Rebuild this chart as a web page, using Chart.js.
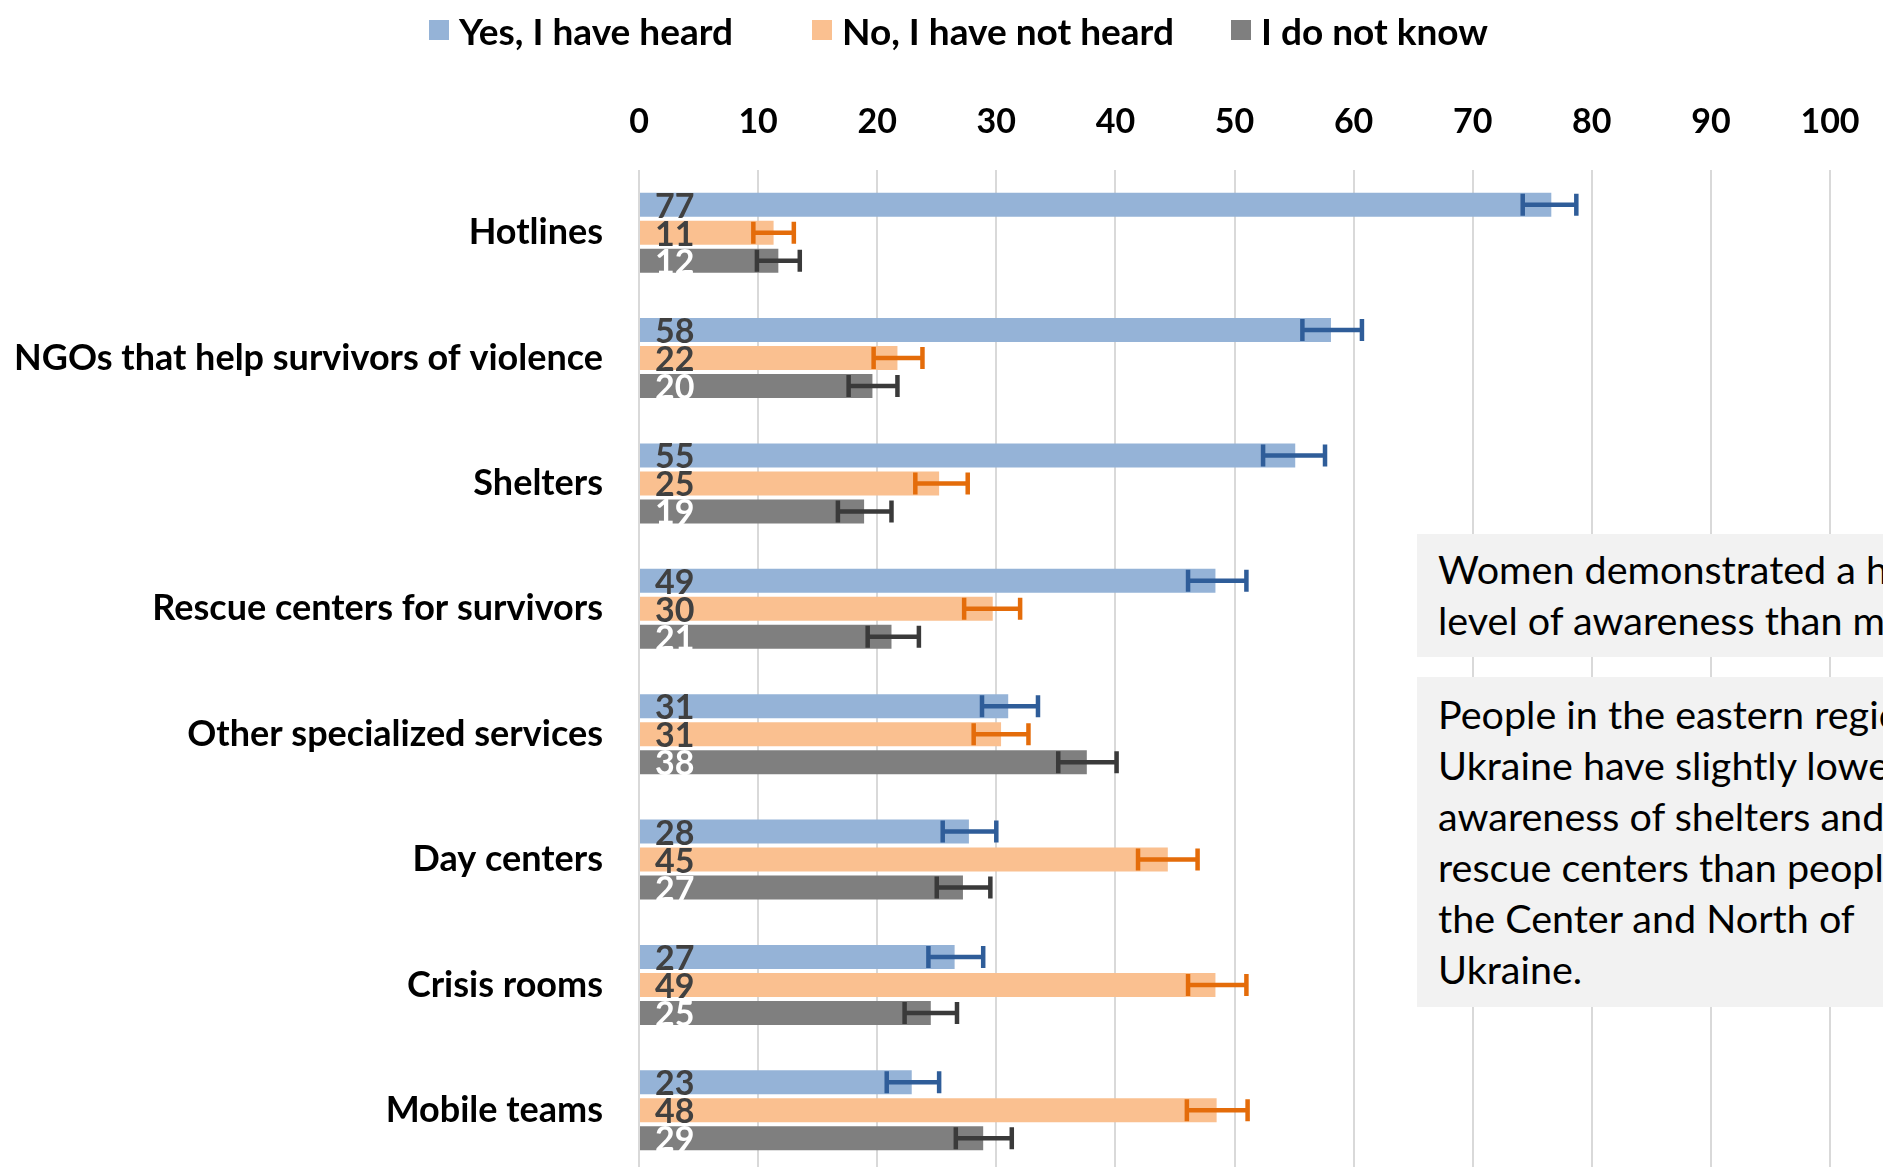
<!DOCTYPE html>
<html lang="en">
<head>
<meta charset="UTF-8">
<title>Awareness of services</title>
<script src="https://cdn.jsdelivr.net/npm/chart.js@4.4.0/dist/chart.umd.min.js"></script>
<style>
  html, body { margin: 0; padding: 0; background: #fff; }
  #frame { position: relative; width: 1883px; height: 1167px; overflow: hidden; }
  #awareness { position: absolute; left: 0; top: 0; }
  .legendItem { position: absolute; top: 7px; height: 46px; display: flex; align-items: center; font-family: Lato, sans-serif; font-weight: bold; font-size: 37px; color: #000; white-space: nowrap; }
  .legendItem .swatch { width: 20px; height: 20px; margin-right: 10px; }
  .note { position: absolute; left: 1417px; width: 560px; background: #f2f2f2; font-family: Lato, sans-serif; font-size: 39.5px; line-height: 51px; color: #000; padding-left: 21px; box-sizing: border-box; white-space: nowrap; }
</style>
</head>
<body>
<div id="frame">
  <canvas id="awareness" width="1883" height="1175"></canvas>
  <div class="note" style="top:534px; height:123px; padding-top:9px;">Women demonstrated a higher<br>level of awareness than men.</div>
  <div class="note" style="top:677px; height:330px; padding-top:11px;">People in the eastern regions of<br>Ukraine have slightly lower<br>awareness of shelters and<br>rescue centers than people in<br>the Center and North of<br>Ukraine.</div>
</div>

<script>
  // categories and series
  const categories = ['Hotlines', 'NGOs that help survivors of violence', 'Shelters', 'Rescue centers for survivors',
    'Other specialized services', 'Day centers', 'Crisis rooms', 'Mobile teams'];
  const seriesNames = ['Yes, I have heard', 'No, I have not heard', 'I do not know'];

  // bar lengths
  const yesValues = [76.6, 58.1, 55.1, 48.4, 31.0, 27.7, 26.5, 22.9];
  const noValues  = [11.3, 21.7, 25.2, 29.7, 30.4, 44.4, 48.4, 48.5];
  const dkValues  = [11.7, 19.6, 18.9, 21.2, 37.6, 27.2, 24.5, 28.9];

  // printed labels
  const yesLabels = [77, 58, 55, 49, 31, 28, 27, 23];
  const noLabels  = [11, 22, 25, 30, 31, 45, 49, 48];
  const dkLabels  = [12, 20, 19, 21, 38, 27, 25, 29];

  // error bar ends
  const yesLow  = [74.2, 55.7, 52.4, 46.1, 28.8, 25.5, 24.3, 20.8];
  const yesHigh = [78.7, 60.7, 57.6, 51.0, 33.5, 30.0, 28.9, 25.2];
  const noLow   = [9.6, 19.7, 23.2, 27.3, 28.1, 41.9, 46.1, 46.0];
  const noHigh  = [13.0, 23.8, 27.6, 32.0, 32.7, 46.9, 51.0, 51.1];
  const dkLow   = [9.9, 17.6, 16.7, 19.2, 35.2, 25.0, 22.3, 26.6];
  const dkHigh  = [13.5, 21.7, 21.2, 23.5, 40.1, 29.5, 26.7, 31.3];

  const barColors = ['#95b3d7', '#fac090', '#7f7f7f'];
  const errColors = ['#2f5d99', '#e46c0a', '#3a3a3a'];
  const labelColors = ['#404040', '#404040', '#ffffff'];
  const legendLeft = [429, 812, 1231];

  const FONT = 'Lato, sans-serif';

  // legend (html, placed like the original)
  const frame = document.getElementById('frame');
  seriesNames.forEach((name, i) => {
    const item = document.createElement('div');
    item.className = 'legendItem';
    item.style.left = legendLeft[i] + 'px';
    item.innerHTML = `<span class="swatch" style="background:${barColors[i]}"></span><span>${name}</span>`;
    frame.appendChild(item);
  });

  // error bars drawn on top of the bars
  const errorBars = {
    id: 'errorBars',
    afterDatasetsDraw(chart) {
      const ctx = chart.ctx;
      const xs = chart.scales.x;
      chart.data.datasets.forEach((ds, i) => {
        const meta = chart.getDatasetMeta(i);
        ctx.save();
        ctx.strokeStyle = ds.errColor;
        ctx.lineWidth = 4.5;
        meta.data.forEach((bar, j) => {
          const x0 = xs.getPixelForValue(ds.errLow[j]);
          const x1 = xs.getPixelForValue(ds.errHigh[j]);
          const h = 11;
          ctx.beginPath();
          ctx.moveTo(x0, bar.y); ctx.lineTo(x1, bar.y);
          ctx.moveTo(x0, bar.y - h); ctx.lineTo(x0, bar.y + h);
          ctx.moveTo(x1, bar.y - h); ctx.lineTo(x1, bar.y + h);
          ctx.stroke();
        });
        ctx.restore();
      });
    }
  };

  // value labels at the start of each bar
  const valueLabels = {
    id: 'valueLabels',
    afterDatasetsDraw(chart) {
      const ctx = chart.ctx;
      chart.data.datasets.forEach((ds, i) => {
        const meta = chart.getDatasetMeta(i);
        ctx.save();
        ctx.font = 'bold 34px ' + FONT;
        ctx.fillStyle = ds.labelColor;
        ctx.textAlign = 'left';
        ctx.textBaseline = 'middle';
        meta.data.forEach((bar, j) => {
          ctx.fillText(String(ds.valueText[j]), bar.base + 15, bar.y + 2);
        });
        ctx.restore();
      });
    }
  };

  const makeSet = (i, values, labels, low, high) => ({
    label: seriesNames[i],
    data: values,
    backgroundColor: barColors[i],
    borderWidth: 0,
    categoryPercentage: 0.67,
    barPercentage: 0.86,
    errLow: low,
    errHigh: high,
    errColor: errColors[i],
    valueText: labels,
    labelColor: labelColors[i]
  });

  new Chart(document.getElementById('awareness'), {
    type: 'bar',
    data: {
      labels: categories,
      datasets: [
        makeSet(0, yesValues, yesLabels, yesLow, yesHigh),
        makeSet(1, noValues, noLabels, noLow, noHigh),
        makeSet(2, dkValues, dkLabels, dkLow, dkHigh)
      ]
    },
    options: {
      indexAxis: 'y',
      responsive: false,
      animation: false,
      layout: { padding: { top: 60, right: 53, left: 0, bottom: 2 } },
      plugins: {
        legend: { display: false },
        tooltip: { enabled: false }
      },
      scales: {
        x: {
          position: 'top',
          min: 0,
          max: 100,
          ticks: {
            stepSize: 10,
            padding: 28,
            color: '#000',
            font: { family: FONT, weight: 'bold', size: 34 }
          },
          grid: { color: '#d9d9d9', lineWidth: 2, drawTicks: false },
          border: { display: false },
          afterFit(scale) {
            scale.height = 110;
            scale.paddingLeft = 0;
            scale.paddingRight = 0;
          }
        },
        y: {
          ticks: {
            padding: 28,
            color: '#000',
            font: { family: FONT, weight: 'bold', size: 36 }
          },
          grid: { display: false },
          border: { display: false },
          afterFit(scale) {
            scale.width = 639;
            scale.paddingTop = 0;
            scale.paddingBottom = 0;
          }
        }
      }
    },
    plugins: [errorBars, valueLabels]
  });
</script>
</body>
</html>
